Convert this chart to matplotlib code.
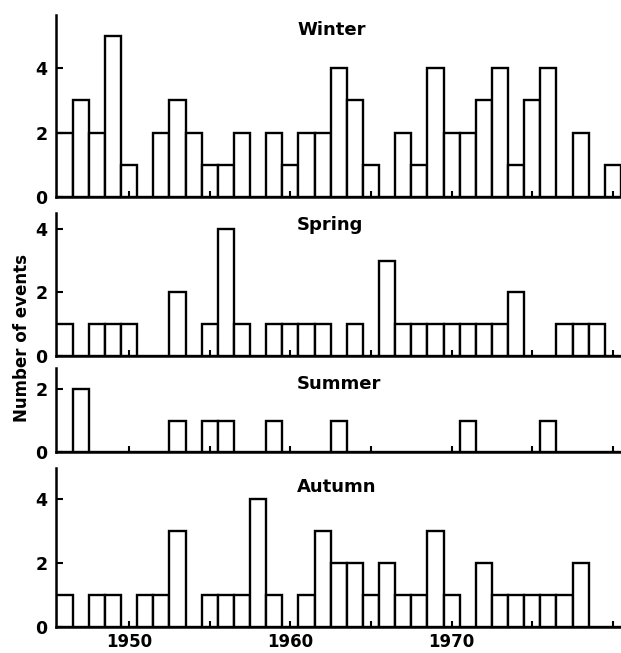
import matplotlib
matplotlib.use("Agg")
import matplotlib.pyplot as plt

# seasonal counts of events per year
years = list(range(1946, 1981))
winter = [2, 3, 2, 5, 1, 0, 2, 3, 2, 1, 1, 2, 0, 2, 1, 2, 2, 4, 3, 1,
          0, 2, 1, 4, 2, 2, 3, 4, 1, 3, 4, 0, 2, 0, 1]
spring = [1, 0, 1, 1, 1, 0, 0, 2, 0, 1, 4, 1, 0, 1, 1, 1, 1, 0, 1, 0,
          3, 1, 1, 1, 1, 1, 1, 1, 2, 0, 0, 1, 1, 1, 0]
summer = [0, 2, 0, 0, 0, 0, 0, 1, 0, 1, 1, 0, 0, 1, 0, 0, 0, 1, 0, 0,
          0, 0, 0, 0, 0, 1, 0, 0, 0, 0, 1, 0, 0, 0, 0]
autumn = [1, 0, 1, 1, 0, 1, 1, 3, 0, 1, 1, 1, 4, 1, 0, 1, 3, 2, 2, 1,
          2, 1, 1, 3, 1, 0, 2, 1, 1, 1, 1, 1, 2, 0, 0]

seasons = ["Winter", "Spring", "Summer", "Autumn"]
counts = [winter, spring, summer, autumn]
ytop = [5.65, 4.5, 2.67, 4.97]
yticks = [[0, 2, 4], [0, 2, 4], [0, 2], [0, 2, 4]]
labelled = [1950, 1960, 1970]

W, H = 621, 653
fig = plt.figure(figsize=(W / 100, H / 100), dpi=100)

# panel extents in pixels: (top, bottom)
boxes = [(15, 197), (213, 356), (368, 452), (468, 627)]
title_y = [30, 225, 384, 487]
left, right = 56, 621

for i, name in enumerate(seasons):
    top, bot = boxes[i]
    ax = fig.add_axes([left / W, 1 - bot / H, (right - left) / W, (bot - top) / H])
    ax.bar(years, counts[i], width=1.0, color="white", edgecolor="black",
           linewidth=1.7, align="center")
    ax.set_xlim(1945.47, 1980.5)
    ax.set_ylim(0, ytop[i])
    for s in ["top", "right"]:
        ax.spines[s].set_visible(False)
    for s in ["left", "bottom"]:
        ax.spines[s].set_linewidth(1.8)
    ax.set_yticks(yticks[i])
    ax.set_xticks(range(1950, 1981, 5))
    if i == 3:
        ax.set_xticklabels([str(y) if y in labelled else "" for y in range(1950, 1981, 5)])
    else:
        ax.set_xticklabels([])
    ax.tick_params(axis="y", direction="in", length=5, width=1.5, pad=6, labelsize=12.5)
    ax.tick_params(axis="x", direction="in", length=4, width=1.5, pad=4, labelsize=12)
    for lab in ax.get_xticklabels() + ax.get_yticklabels():
        lab.set_fontweight("bold")
    fig.text(297 / W, 1 - title_y[i] / H, name, ha="left", va="center",
             fontsize=13, fontweight="bold")

fig.text(22 / W, 1 - 338 / H, "Number of events", rotation=90, ha="center",
         va="center", fontsize=12, fontweight="bold")

fig.savefig("out.png", dpi=100)
